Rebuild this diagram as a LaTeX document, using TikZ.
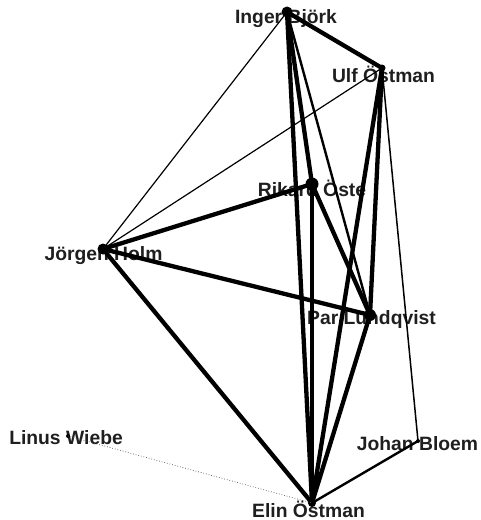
\documentclass[tikz,border=0pt]{standalone}
\usepackage{fontspec}
\setmainfont{Liberation Sans}
\begin{document}
\begin{tikzpicture}[x=1pt,y=-1pt,
  lbl/.style={font=\bfseries\fontsize{19.3}{22}\selectfont, text=black!88, inner sep=0pt, anchor=center},
  dot/.style={circle, fill=black, inner sep=0pt, minimum size=#1},
  thickedge/.style={line width=4.3pt},
  midedge/.style={line width=2.4pt},
  thinedge/.style={line width=1.2pt},
  faintedge/.style={line width=0.7pt, dotted, black!70}]
\useasboundingbox (0,0) rectangle (481,520);
\fill[white] (0,0) rectangle (481,520);
% labels
\node[lbl] (linger) at (286,19) {Inger Björk};
\node[lbl] (lulf) at (383.5,74) {Ulf Östman};
\node[lbl] (lrikard) at (312,188) {Rikard Öste};
\node[lbl] (ljorgen) at (103.5,256) {Jörgen Holm};
\node[lbl] (lpar) at (371.5,320) {Par Lundqvist};
\node[lbl] (llinus) at (66,438) {Linus Wiebe};
\node[lbl] (ljohan) at (417.5,444) {Johan Bloem};
\node[lbl] (lelin) at (308.5,509) {Elin Östman};
% dots
\node[dot=11pt] (inger) at (287,12) {};
\node[dot=7pt] (ulf) at (382,68) {};
\node[dot=13pt] (rikard) at (312,184) {};
\node[dot=11pt] (jorgen) at (103,249) {};
\node[dot=12pt] (par) at (370,315) {};
\node[dot=4pt] (linus) at (68,436) {};
\node[dot=4pt] (johan) at (418,441) {};
\node[dot=8pt] (elin) at (312,503) {};
% edges
\draw[thickedge] (inger.center) -- (ulf.center);
\draw[thickedge] (inger.center) -- (elin.center);
\draw[thickedge] (inger.center) -- (rikard.center);
\draw[midedge] (inger.center) -- (par.center);
\draw[thinedge] (inger.center) -- (jorgen.center);
\draw[thinedge] (ulf.center) -- (jorgen.center);
\draw[thickedge] (ulf.center) -- (elin.center);
\draw[thickedge] (ulf.center) -- (par.center);
\draw[line width=1.5pt] (ulf.center) -- (johan.center);
\draw[thickedge] (jorgen.center) -- (rikard.center);
\draw[thickedge] (jorgen.center) -- (par.center);
\draw[thickedge] (jorgen.center) -- (elin.center);
\draw[thickedge] (rikard.center) -- (elin.center);
\draw[thickedge] (rikard.center) -- (par.center);
\draw[thickedge] (par.center) -- (elin.center);
\draw[midedge] (johan.center) -- (elin.center);
\draw[faintedge] (linus.center) -- (elin.center);
\end{tikzpicture}
\end{document}
